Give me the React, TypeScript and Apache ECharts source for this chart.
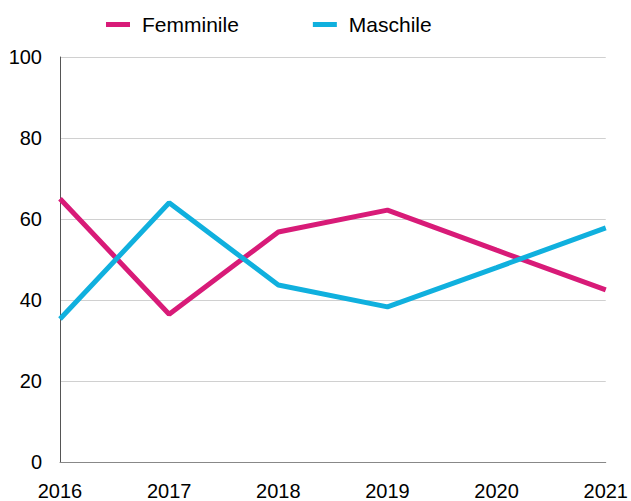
import React, { useEffect, useRef } from "react";
import * as echarts from "echarts";

const years = ["2016", "2017", "2018", "2019", "2020", "2021"];
const femminile = [65, 36.5, 56.8, 62.2, 52.3, 42.5];
const maschile = [35.3, 64, 43.7, 38.3, 48, 57.8];
const yTicks = { min: 0, max: 100, interval: 20 };

const FONT = "'Liberation Sans', Arial, sans-serif";

export default function App() {
  const ref = useRef<HTMLDivElement>(null);
  useEffect(() => {
    const chart = echarts.init(ref.current!, undefined, { renderer: "svg" });
    chart.setOption({
      animation: false,
      textStyle: { fontFamily: FONT },
      legend: {
        top: 9,
        left: 101,
        itemGap: 74,
        itemWidth: 24,
        itemHeight: 5,
        icon: "rect",
        textStyle: { fontSize: 21, color: "#000", fontFamily: FONT, padding: [0, 0, 0, 7] },
        data: ["Femminile", "Maschile"],
      },
      grid: { left: 60, right: 23, top: 57, bottom: 39, containLabel: false },
      xAxis: {
        type: "category",
        data: years,
        boundaryGap: false,
        axisLine: { lineStyle: { color: "#888", width: 1 } },
        axisTick: { show: false },
        axisLabel: { fontSize: 20, color: "#000", margin: 19, fontFamily: FONT, showMaxLabel: true, showMinLabel: true },
      },
      yAxis: {
        type: "value",
        min: yTicks.min,
        max: yTicks.max,
        interval: yTicks.interval,
        axisLine: { show: true, lineStyle: { color: "#555", width: 1 } },
        axisTick: { show: false },
        splitLine: { lineStyle: { color: "#d0d0d0", width: 1 } },
        axisLabel: { fontSize: 20, color: "#000", margin: 18, fontFamily: FONT },
      },
      series: [
        {
          name: "Femminile",
          type: "line",
          data: femminile,
          symbol: "none",
          color: "#d81b78",
          lineStyle: { width: 5, color: "#d81b78" },
        },
        {
          name: "Maschile",
          type: "line",
          data: maschile,
          symbol: "none",
          color: "#10b0de",
          lineStyle: { width: 5, color: "#10b0de" },
        },
      ],
    });
    return () => chart.dispose();
  }, []);
  return <div ref={ref} style={{ width: 631, height: 501, position: "absolute", left: 0, top: 0 }} />;
}
